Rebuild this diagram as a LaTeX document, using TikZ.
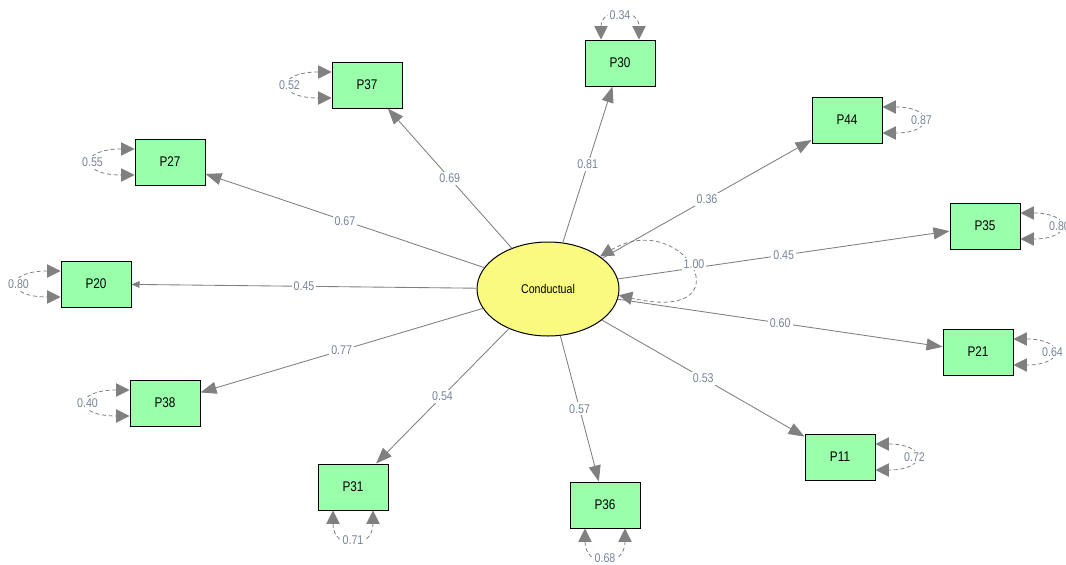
\documentclass[tikz,border=0pt]{standalone}
\usepackage{fontspec}
\setmainfont{Liberation Sans}
\newfontfamily\narrowsf[FakeStretch=0.84]{Liberation Sans}
\usetikzlibrary{arrows.meta,shapes.geometric}

\definecolor{boxgreen}{RGB}{153,255,170}
\definecolor{lvyellow}{RGB}{250,250,128}
\definecolor{linegray}{RGB}{128,128,128}
\definecolor{valgray}{RGB}{120,132,152}

\begin{document}
\begin{tikzpicture}[x=0.75pt,y=0.75pt,
  obs/.style={draw=black, line width=0.75pt, fill=boxgreen,
    minimum width=52.5pt, minimum height=34.5pt, inner sep=0pt,
    font=\narrowsf\fontsize{10.5}{12}\selectfont},
  latent/.style={ellipse, draw=black, line width=0.75pt, fill=lvyellow,
    minimum width=106.5pt, minimum height=70.5pt, inner sep=0pt,
    font=\narrowsf\fontsize{9.5}{11}\selectfont},
  load/.style={draw=linegray, line width=0.65pt,
    -{Triangle[length=12pt,width=9pt,fill=linegray]}},
  smalltip/.style={-{Triangle[length=6pt,width=5pt,fill=linegray]}},
  coef/.style={fill=white, inner sep=1.5pt, text=valgray,
    font=\narrowsf\fontsize{9.5}{10}\selectfont},
  resid/.style={draw=linegray, line width=0.6pt, dash pattern=on 3pt off 2pt,
    {Triangle[length=10pt,width=10pt,fill=linegray]}-{Triangle[length=10pt,width=10pt,fill=linegray]}},
]
\useasboundingbox (0,0) rectangle (1066,-564);

% latent variable and indicators
\node[latent] (ell) at (548,-289) {Conductual};
\node[obs] (p30) at (620,-63)  {P30};
\node[obs] (p37) at (367,-85)  {P37};
\node[obs] (p27) at (170,-162) {P27};
\node[obs] (p20) at (96,-284)  {P20};
\node[obs] (p38) at (165,-403) {P38};
\node[obs] (p31) at (353,-487) {P31};
\node[obs] (p36) at (605,-505) {P36};
\node[obs] (p11) at (840,-457) {P11};
\node[obs] (p21) at (978,-352) {P21};
\node[obs] (p35) at (985,-226) {P35};
\node[obs] (p44) at (847,-120) {P44};

% factor loadings
\draw[load] (ell) -- node[coef] {0.81} (p30);
\draw[load] (ell) -- node[coef] {0.69} (p37);
\draw[load] (ell) -- node[coef] {0.67} (p27);
\draw[load,smalltip] (ell) -- node[coef] {0.45} (p20);
\draw[load] (ell) -- node[coef] {0.77} (p38);
\draw[load] (ell) -- node[coef] {0.54} (p31);
\draw[load] (ell) -- node[coef] {0.57} (p36);
\draw[load] (ell) -- node[coef] {0.53} (p11);
\draw[load] (ell) -- node[coef] {0.60} (p21);
\draw[load] (ell) -- node[coef] {0.45} (p35);
\draw[load] (ell) -- node[coef] {0.36} (p44);

% variance of the latent variable
\draw[resid] (ell.32) .. controls +(85,50) and +(130,-30) .. (ell.-5);
\node[coef] (v0) at (694,-264) {1.00};

% error variances, left side
\foreach \b/\v in {p37/0.52, p27/0.55, p20/0.80, p38/0.40}{
  \draw[resid] ([shift={(0,13)}]\b.west) .. controls +(-56,0) and +(-56,0) .. ([shift={(0,-13)}]\b.west);
  \node[coef] (e\b) at ([shift={(-42,0)}]\b.west) {\v};
}
% error variances, right side
\foreach \b/\v in {p44/0.87, p35/0.80, p21/0.64, p11/0.72}{
  \draw[resid] ([shift={(0,13)}]\b.east) .. controls +(52,0) and +(52,0) .. ([shift={(0,-13)}]\b.east);
  \node[coef] (e\b) at ([shift={(39,0)}]\b.east) {\v};
}
% error variances, top
\draw[resid] ([shift={(-19,0)}]p30.north) .. controls +(0,32) and +(0,32) .. ([shift={(19,0)}]p30.north);
\node[coef] (ep30) at ([shift={(0,24)}]p30.north) {0.34};
% error variances, bottom
\foreach \b/\v in {p31/0.71, p36/0.68}{
  \draw[resid] ([shift={(-20,0)}]\b.south) .. controls +(0,-40) and +(0,-40) .. ([shift={(20,0)}]\b.south);
  \node[coef] (e\b) at ([shift={(0,-30)}]\b.south) {\v};
}
\end{tikzpicture}
\end{document}
